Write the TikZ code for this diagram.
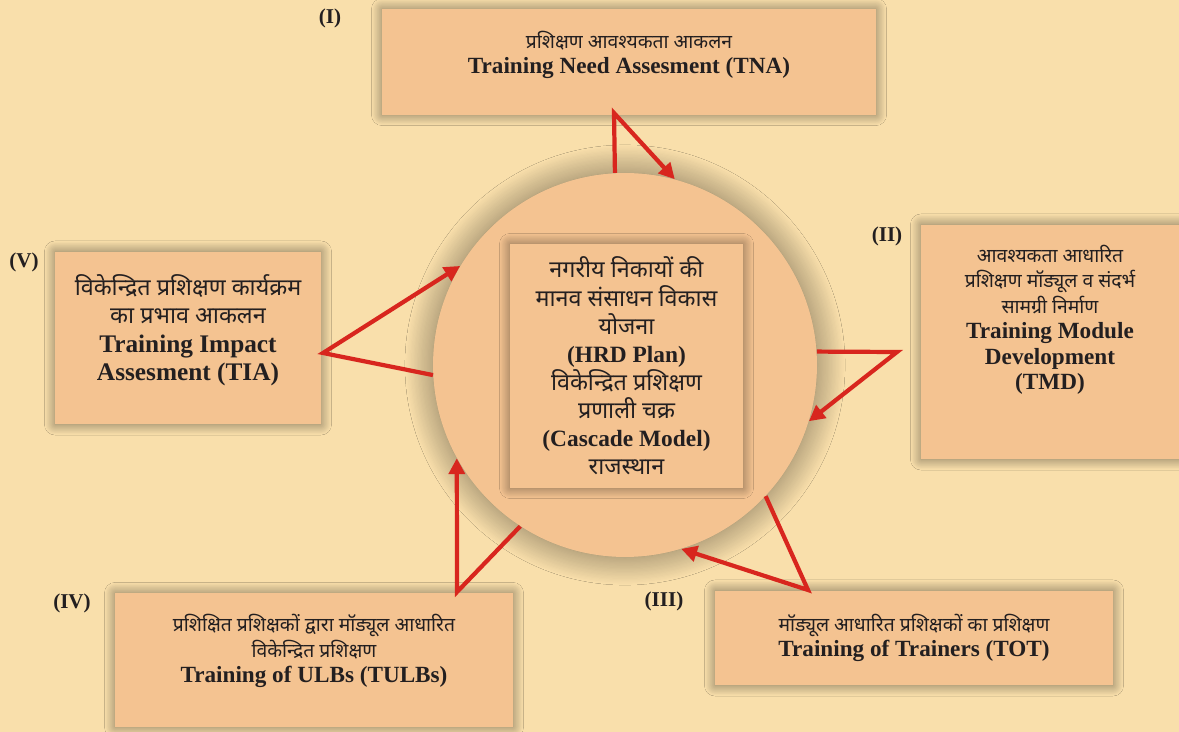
\documentclass[tikz,border=0pt]{standalone}
\usepackage{fontspec}
\setmainfont{Liberation Serif}
\newfontfamily\hindi[Script=Devanagari]{Noto Sans}
\usetikzlibrary{arrows.meta,positioning,shadows.blur}
\definecolor{pagebg}{HTML}{F9DFAB}
\definecolor{boxfill}{HTML}{F4C391}
\definecolor{cyclered}{HTML}{D8261E}
\definecolor{inkdark}{HTML}{231F20}
\tikzset{
stage/.style={
  rectangle, fill=boxfill, text=inkdark, align=center, inner sep=2pt,
  font=\fontsize{13.2}{14.5}\selectfont\bfseries,
  blur shadow={shadow xshift=0pt, shadow yshift=0pt, shadow blur radius=6pt,
    shadow blur steps=16, shadow opacity=50}
},
hub/.style={
  circle, fill=boxfill, minimum size=7.68cm,
  blur shadow={shadow xshift=0pt, shadow yshift=0pt, shadow blur radius=16pt,
    shadow blur steps=24, shadow opacity=50}
},
roman/.style={text=inkdark, font=\fontsize{12}{14}\selectfont\bfseries},
flow/.style={cyclered, line width=2.4pt, -{Triangle[length=9pt,width=9pt]}},
}
\newcommand\hin[1]{{\hindi\mdseries\fontsize{11}{13}\selectfont #1}}
\newcommand\hinbig[1]{{\hindi\mdseries\fontsize{13.3}{15}\selectfont #1}}

\begin{document}
\begin{tikzpicture}[x=0.02cm, y=-0.02cm]
  \fill[pagebg] (0,0) rectangle (1179,732);
  \useasboundingbox (0,0) rectangle (1179,732);

  % centre of the cycle
  \node[hub] (hub) at (625,365) {};
  \node[stage, minimum width=4.66cm, minimum height=4.88cm,
        font=\fontsize{13.3}{16}\selectfont\bfseries] (plan) at (626.5,366) {%
    \hinbig{नगरीय निकायों की}\\
    \hinbig{मानव संसाधन विकास}\\
    \hinbig{योजना}\\
    (HRD Plan)\\
    \hinbig{विकेन्द्रित प्रशिक्षण}\\
    \hinbig{प्रणाली चक्र}\\
    (Cascade Model)\\
    \hinbig{राजस्थान}};

  % the five stages
  \node[stage, minimum width=9.88cm, minimum height=2.12cm, text depth=11pt] (tna) at (629,62) {%
    \hin{प्रशिक्षण आवश्यकता आकलन}\\
    Training Need Assesment (TNA)};
  \node[stage, minimum width=5.16cm, minimum height=4.7cm, text depth=28pt] (tmd) at (1050,342) {%
    \hin{आवश्यकता आधारित}\\
    \hin{प्रशिक्षण मॉड्यूल व संदर्भ}\\
    \hin{सामग्री निर्माण}\\
    Training Module\\
    Development\\
    (TMD)};
  \node[stage, minimum width=7.96cm, minimum height=1.9cm] (tot) at (914,638) {%
    \hin{मॉड्यूल आधारित प्रशिक्षकों का प्रशिक्षण}\\
    Training of Trainers (TOT)};
  \node[stage, minimum width=7.96cm, minimum height=2.68cm, text depth=13pt] (tulb) at (314,660) {%
    \hin{प्रशिक्षित प्रशिक्षकों द्वारा मॉड्यूल आधारित}\\
    \hin{विकेन्द्रित प्रशिक्षण}\\
    Training of ULBs (TULBs)};
  \node[stage, minimum width=5.32cm, minimum height=3.46cm, text depth=12pt,
        font=\fontsize{14.4}{16.2}\selectfont\bfseries] (tia) at (188,338) {%
    \hinbig{विकेन्द्रित प्रशिक्षण कार्यक्रम}\\
    \hinbig{का प्रभाव आकलन}\\
    Training Impact\\
    Assesment (TIA)};

  % stage numbers
  \node[roman] (num1) at (330,18) {(I)};
  \node[roman] (num2) at (887,236) {(II)};
  \node[roman] (num3) at (664,601) {(III)};
  \node[roman] (num4) at (72,603) {(IV)};
  \node[roman] (num5) at (24,262) {(V)};

  % bends of the arrows
  \coordinate (k1) at (614,113);
  \coordinate (k2) at (897,352);
  \coordinate (k3) at (808,590);
  \coordinate (k4) at (457,592);
  \coordinate (k5) at (323,353);

  \draw[flow] (hub.93) -- (k1) -- (hub.75);
  \draw[flow] (hub.4) -- (k2) -- (hub.-17);
  \draw[flow] (hub.-43) -- (k3) -- (hub.-73);
  \draw[flow] (hub.-123) -- (k4) -- (hub.-151);
  \draw[flow] (hub.183) -- (k5) -- (hub.149);
\end{tikzpicture}
\end{document}
